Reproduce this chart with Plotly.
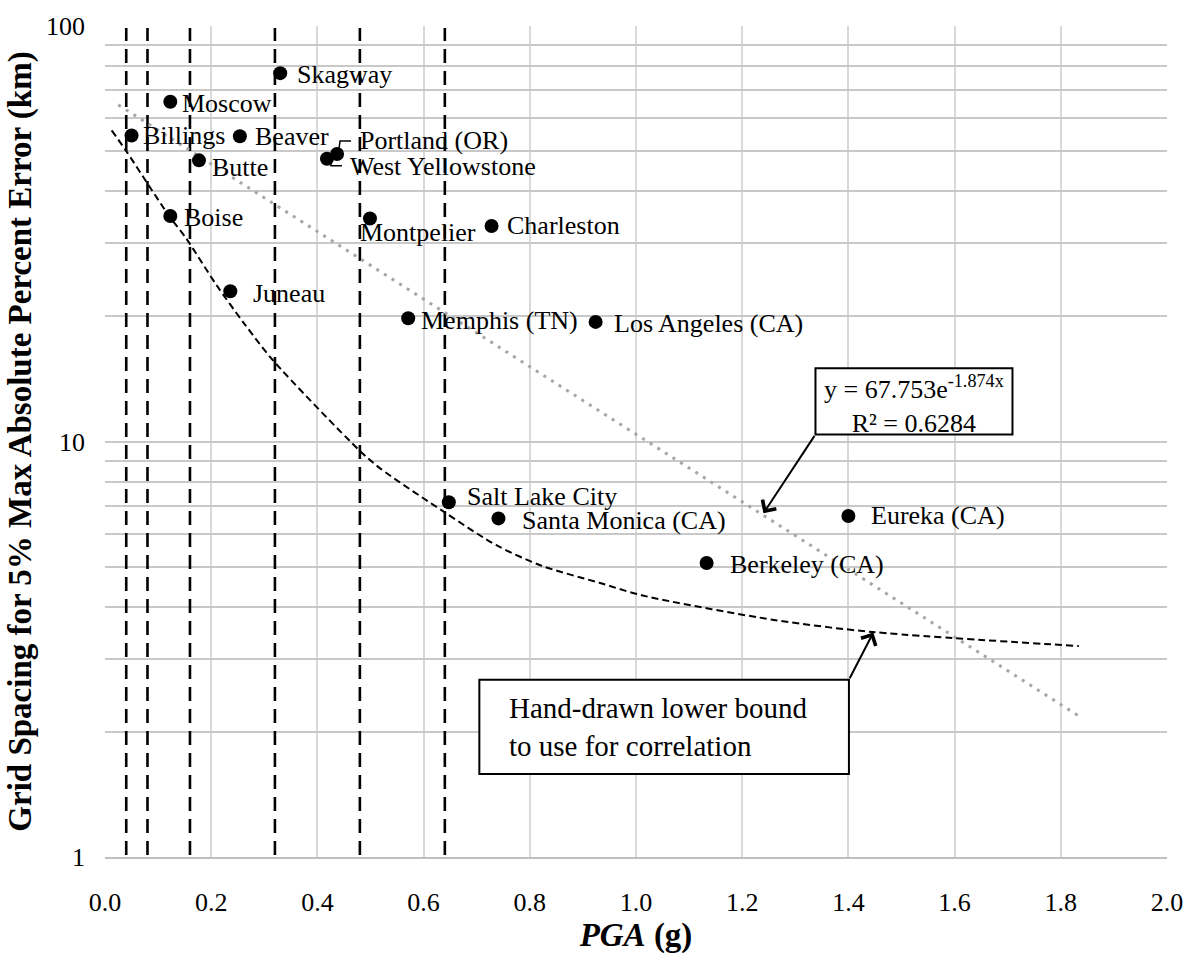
import numpy as np
import plotly.graph_objects as go

# ---------------- data ----------------
cities = ["Skagway", "Moscow", "Billings", "Beaver", "Butte", "West Yellowstone",
          "Portland (OR)", "Boise", "Montpelier", "Charleston", "Juneau",
          "Memphis (TN)", "Los Angeles (CA)", "Salt Lake City", "Santa Monica (CA)",
          "Berkeley (CA)", "Eureka (CA)"]
pga = [0.33, 0.123, 0.05, 0.254, 0.177, 0.418, 0.437, 0.123, 0.499, 0.728, 0.236,
       0.571, 0.924, 0.6475, 0.741, 1.133, 1.40]
spacing = [77.0, 65.7, 54.5, 54.3, 47.5, 47.9, 49.2, 34.9, 34.4, 33.0, 23.0,
           19.8, 19.4, 7.14, 6.53, 5.1, 6.62]

# exponential trendline (straight on log axis): end points
trend_x = [0.025, 1.84]
trend_y = [64.6, 2.16]

# hand-drawn lower bound
lb_x = [0.0125, 0.04, 0.12, 0.153, 0.209, 0.2625, 0.316, 0.478, 0.5175, 0.64,
        0.738, 0.823, 0.931, 1.0125, 1.26, 1.445, 1.834]
lb_y = [56.1, 50.0, 35.0, 30.8, 23.9, 19.2, 15.7, 9.55, 8.63, 6.75,
        5.62, 5.02, 4.57, 4.26, 3.72, 3.48, 3.22]

# vertical PGA bin edges
bin_edges = [0.04, 0.08, 0.16, 0.32, 0.48, 0.64]

x_ticks = [0.0, 0.2, 0.4, 0.6, 0.8, 1.0, 1.2, 1.4, 1.6, 1.8, 2.0]
y_grid = [1, 2, 3, 4, 5, 6, 7, 8, 9, 10, 20, 30, 40, 50, 60, 70, 80, 90, 100]
y_labels = ["1", "", "", "", "", "", "", "", "", "10", "", "", "", "", "", "", "", "", "100"]

eq_text = "y = 67.753e<sup>-1.874x</sup><br>R² = 0.6284"
note_text = "Hand-drawn lower bound<br>to use for correlation"

# ---------------- styling / layout positions ----------------
FONT = "Times New Roman, Liberation Serif, Tinos, serif"
label_offsets = {  # (dx, dy) in px from the marker centre, dy positive downward
    "Skagway": (16, 1), "Moscow": (11, 2), "Billings": (10, 0), "Beaver": (14, 0),
    "Butte": (12, 7), "West Yellowstone": (22, 8), "Portland (OR)": (22, -13),
    "Boise": (13, 2), "Montpelier": (-11, 14), "Charleston": (14, -1),
    "Juneau": (22, 2), "Memphis (TN)": (12, 2), "Los Angeles (CA)": (17, 2),
    "Salt Lake City": (17, -6), "Santa Monica (CA)": (23, 2),
    "Berkeley (CA)": (22, 1), "Eureka (CA)": (22, 0),
}
vline_span = [1.011, 98.9]
eq_box = dict(x0=1.338, x1=1.709, y0=10.4, y1=15.0)
eq_arrow_tip = (1.24, 6.72)
note_box = dict(x0=0.705, x1=1.401, y0=1.585, y1=2.67)
note_text_x = 0.757
note_arrow_tip = (1.447, 3.47)

fig = go.Figure()

# vertical dashed lines
vx, vy = [], []
for e in bin_edges:
    vx += [e, e, None]
    vy += [vline_span[0], vline_span[1], None]
fig.add_trace(go.Scatter(x=vx, y=vy, mode="lines",
                         line=dict(color="black", width=2.6, dash="14px,8px"),
                         hoverinfo="skip", showlegend=False))

# trendline
fig.add_trace(go.Scatter(x=trend_x, y=trend_y, mode="lines",
                         line=dict(color="#A6A6A6", width=3, dash="3px,6px"),
                         hoverinfo="skip", showlegend=False))

# lower bound
fig.add_trace(go.Scatter(x=lb_x, y=lb_y, mode="lines",
                         line=dict(color="black", width=2, dash="7px,4px",
                                   shape="spline", smoothing=0.8),
                         hoverinfo="skip", showlegend=False))

# data points
fig.add_trace(go.Scatter(x=pga, y=spacing, mode="markers",
                         marker=dict(color="black", size=14),
                         text=cities, hoverinfo="text", showlegend=False))

annotations = []
for c, xv, yv in zip(cities, pga, spacing):
    dx, dy = label_offsets[c]
    annotations.append(dict(x=xv, y=np.log10(yv), xref="x", yref="y", text=c,
                            showarrow=False, xanchor="left", yanchor="middle",
                            xshift=dx, yshift=-dy, borderpad=0,
                            font=dict(family=FONT, size=26, color="black")))

# equation text
annotations.append(dict(x=(eq_box["x0"] + eq_box["x1"]) / 2,
                        y=(np.log10(eq_box["y0"]) + np.log10(eq_box["y1"])) / 2,
                        xref="x", yref="y", text=eq_text, showarrow=False,
                        xanchor="center", yanchor="middle", align="center", yshift=-3,
                        font=dict(family=FONT, size=26, color="black")))
annotations.append(dict(x=eq_arrow_tip[0], y=np.log10(eq_arrow_tip[1]), xref="x", yref="y",
                        ax=eq_box["x0"], ay=np.log10(eq_box["y0"]), axref="x", ayref="y",
                        text="", showarrow=True, arrowhead=4, arrowsize=1.6,
                        arrowwidth=2, arrowcolor="black", standoff=0, startstandoff=0))
# note text
annotations.append(dict(x=note_text_x,
                        y=(np.log10(note_box["y0"]) + np.log10(note_box["y1"])) / 2,
                        xref="x", yref="y", text=note_text, showarrow=False,
                        xanchor="left", yanchor="middle", align="left",
                        font=dict(family=FONT, size=29, color="black")))
annotations.append(dict(x=note_arrow_tip[0], y=np.log10(note_arrow_tip[1]), xref="x", yref="y",
                        ax=note_box["x1"], ay=np.log10(note_box["y1"]), axref="x", ayref="y",
                        text="", showarrow=True, arrowhead=4, arrowsize=1.6,
                        arrowwidth=2, arrowcolor="black", standoff=0, startstandoff=0))

shapes = []
for b in (eq_box, note_box):
    shapes.append(dict(type="rect", xref="x", yref="y", x0=b["x0"], x1=b["x1"],
                       y0=b["y0"], y1=b["y1"], fillcolor="white",
                       line=dict(color="black", width=2), layer="above"))
# leader lines for crowded labels (pixel paths anchored at the points)
leaders = {"Portland (OR)": "M 2,6 L 3,13 L 14,13", "West Yellowstone": "M 4,-3 L 4,-7 L 15,-7"}
for c, p in leaders.items():
    i = cities.index(c)
    shapes.append(dict(type="path", xref="x", yref="y", xsizemode="pixel", ysizemode="pixel",
                       xanchor=pga[i], yanchor=spacing[i], path=p,
                       line=dict(color="black", width=1.5), layer="above"))

fig.update_layout(
    width=1195, height=958,
    margin=dict(l=105, r=17, t=18, b=94),
    plot_bgcolor="white", paper_bgcolor="white",
    font=dict(family=FONT, size=26, color="black"),
    annotations=annotations, shapes=shapes,
    xaxis=dict(range=[0, 2], tickvals=x_ticks, ticktext=[f"{v:.1f}" for v in x_ticks],
               showgrid=True, gridcolor="#D9D9D9", gridwidth=1.5, zeroline=False,
               showline=True, linecolor="#BFBFBF", linewidth=2, ticks="",
               ticklabelstandoff=21,
               tickfont=dict(family=FONT, size=26, color="black"),
               title=dict(text="<b><i>PGA</i> (g)</b>", standoff=6,
                          font=dict(family=FONT, size=33, color="black"))),
    yaxis=dict(type="log", range=[0, 2], tickvals=y_grid, ticktext=y_labels,
               showgrid=True, gridcolor="#C8C8C8", gridwidth=1.8, zeroline=False,
               showline=False, ticks="", ticklabelstandoff=19,
               tickfont=dict(family=FONT, size=26, color="black"),
               title=dict(text="<b>Grid Spacing for 5% Max Absolute Percent Error (km)</b>",
                          standoff=4, font=dict(family=FONT, size=33, color="black"))),
)

fig.write_html("out.html")
